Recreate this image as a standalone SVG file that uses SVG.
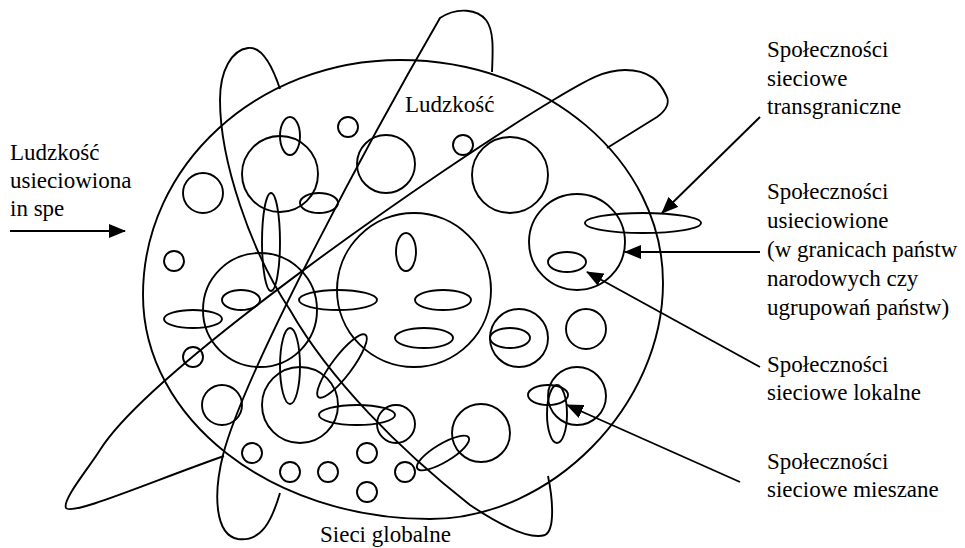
<svg xmlns="http://www.w3.org/2000/svg" width="965" height="548" viewBox="0 0 965 548">
<style>
.s{fill:none;stroke:#000;stroke-width:1.9}
.c{fill:none;stroke:#000;stroke-width:1.9}
</style>
<defs>
<marker id="ah" viewBox="0 0 17 14" refX="16" refY="7" markerWidth="17" markerHeight="14" markerUnits="userSpaceOnUse" orient="auto"><path d="M0,0 L17,7 L0,14 z" fill="#000"/></marker>
</defs>
<rect width="965" height="548" fill="#fff"/>
<g id="main-ellipse">
<path class="s" d="M400,60 C545,60 663,160 663,283 C663,405 552,519 430,519 C271,519 143,419 143,295 C143,165 258,60 400,60 Z"/>
</g>
<g id="loops">
<path id="loop-ludzkosc" class="s" d="M492,72 C493,50 494,30 486,20 C478,10 458,6 440,18 C375,130 245,370 223,455 C213,495 215,535 238,539 C262,542 272,520 280,493"/>
<path id="loop-left" class="s" d="M280,89 C272,65 262,46 248,48 C232,50 220,70 220,100 C220,160 250,250 290,310 C330,380 400,450 470,505 C500,525 530,540 545,535 C555,530 553,500 548,476"/>
<path id="loop-diagonal" class="s" d="M607,148 L657,117 C667,110 670,102 666,95 C660,82 650,70 625,70 C605,70 590,78 555,99 C440,168 150,370 100,450 C88,469 62,500 66,508 C72,516 150,482 224,456"/>
</g>
<g id="circles">
<circle class="c" cx="280" cy="174" r="38"/>
<circle class="c" cx="203" cy="193" r="20"/>
<circle class="c" cx="174" cy="261" r="10"/>
<circle class="c" cx="348" cy="127" r="10"/>
<circle class="c" cx="386" cy="164" r="29"/>
<circle class="c" cx="463" cy="145" r="10"/>
<circle class="c" cx="510" cy="175" r="38"/>
<circle class="c" cx="577" cy="242" r="48"/>
<circle class="c" cx="414" cy="290" r="77"/>
<circle class="c" cx="260" cy="310" r="57"/>
<circle class="c" cx="193" cy="357" r="10"/>
<circle class="c" cx="222" cy="405" r="20"/>
<circle class="c" cx="300" cy="405" r="38"/>
<circle class="c" cx="396" cy="424" r="19"/>
<circle class="c" cx="252" cy="453" r="10"/>
<circle class="c" cx="290" cy="472" r="10"/>
<circle class="c" cx="328" cy="472" r="10"/>
<circle class="c" cx="367" cy="453" r="10"/>
<circle class="c" cx="367" cy="492" r="10"/>
<circle class="c" cx="405" cy="472" r="10"/>
<circle class="c" cx="481" cy="433" r="29"/>
<circle class="c" cx="519" cy="338" r="29"/>
<circle class="c" cx="586" cy="329" r="20"/>
<circle class="c" cx="577" cy="396" r="29"/>
</g>
<g id="ellipses">
<ellipse class="c" cx="290" cy="136" rx="10" ry="19"/>
<ellipse class="c" cx="319" cy="203" rx="19" ry="10"/>
<ellipse class="c" cx="271" cy="242" rx="9" ry="49"/>
<ellipse class="c" cx="406" cy="252" rx="10" ry="19"/>
<ellipse class="c" cx="643" cy="223" rx="58" ry="10"/>
<ellipse class="c" cx="567" cy="262" rx="19" ry="10"/>
<ellipse class="c" cx="443" cy="300" rx="28" ry="10"/>
<ellipse class="c" cx="424" cy="338" rx="29" ry="10"/>
<ellipse class="c" cx="338" cy="300" rx="39" ry="10"/>
<ellipse class="c" cx="241" cy="300" rx="19" ry="10"/>
<ellipse class="c" cx="193" cy="319" rx="29" ry="9"/>
<ellipse class="c" cx="290" cy="366" rx="10" ry="38"/>
<ellipse class="c" cx="342" cy="366" rx="39" ry="10" transform="rotate(-53 342 366)"/>
<ellipse class="c" cx="357" cy="415" rx="38" ry="10"/>
<ellipse class="c" cx="443" cy="453" rx="30" ry="9" transform="rotate(-31 443 453)"/>
<ellipse class="c" cx="510" cy="338" rx="20" ry="10"/>
<ellipse class="c" cx="548" cy="395" rx="20" ry="10"/>
<ellipse class="c" cx="557" cy="414" rx="10" ry="29"/>
</g>
<g id="connectors">
<line class="s" x1="10" y1="231" x2="125" y2="231" marker-end="url(#ah)"/>
<line class="s" x1="760" y1="117" x2="662" y2="213" marker-end="url(#ah)"/>
<line class="s" x1="760" y1="252" x2="625" y2="252" marker-end="url(#ah)"/>
<line class="s" x1="760" y1="367" x2="587" y2="272" marker-end="url(#ah)"/>
<line class="s" x1="740" y1="482" x2="567" y2="405" marker-end="url(#ah)"/>
</g>
<g id="labels" font-family="'Liberation Serif', 'DejaVu Serif', serif" font-size="23" fill="#000">
<g id="label-ludzkosc"><text x="405" y="112">Ludzkość</text></g>
<g id="label-in-spe"><text x="10" y="160">Ludzkość</text><text x="10" y="188">usieciowiona</text><text x="10" y="216">in spe</text></g>
<g id="label-transgraniczne"><text x="767" y="57">Społeczności</text><text x="767" y="85.5">sieciowe</text><text x="767" y="114">transgraniczne</text></g>
<g id="label-usieciowione"><text x="767" y="199">Społeczności</text><text x="767" y="228">usieciowione</text><text x="767" y="257">(w granicach państw</text><text x="767" y="286">narodowych czy</text><text x="767" y="315">ugrupowań państw)</text></g>
<g id="label-lokalne"><text x="767" y="372">Społeczności</text><text x="767" y="400">sieciowe lokalne</text></g>
<g id="label-mieszane"><text x="767" y="469">Społeczności</text><text x="767" y="497">sieciowe mieszane</text></g>
<g id="label-sieci"><text x="320" y="542">Sieci globalne</text></g>
</g>
</svg>
